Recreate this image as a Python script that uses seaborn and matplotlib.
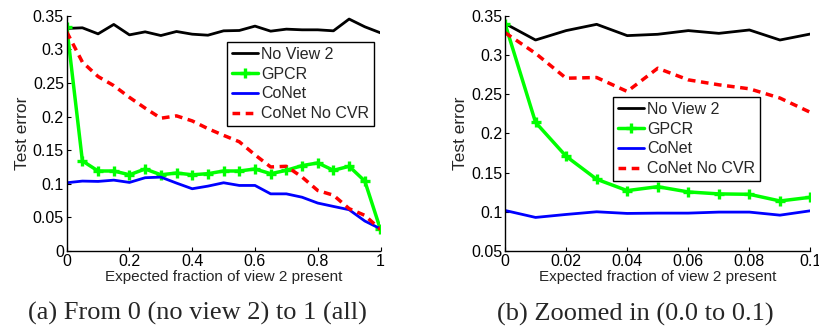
import numpy as np
import pandas as pd
import matplotlib
matplotlib.use("Agg")
import matplotlib.pyplot as plt
import seaborn as sns
from matplotlib.ticker import FuncFormatter, MultipleLocator

# ---------------- data ----------------
x_full = [0.0, 0.05, 0.1, 0.15, 0.2, 0.25, 0.3, 0.35, 0.4, 0.45, 0.5,
          0.55, 0.6, 0.65, 0.7, 0.75, 0.8, 0.85, 0.9, 0.95, 1.0]
noview2_full = [0.331, 0.332, 0.323, 0.337, 0.3215, 0.326, 0.3205, 0.3265, 0.3225, 0.321, 0.3275,
                0.328, 0.3345, 0.327, 0.330, 0.329, 0.329, 0.3275, 0.345, 0.3335, 0.3245]
gpcr_full = [0.3335, 0.134, 0.119, 0.119, 0.1134, 0.122, 0.1134, 0.116, 0.1134, 0.115, 0.119,
             0.119, 0.122, 0.115, 0.120, 0.127, 0.131, 0.120, 0.126, 0.104, 0.032]
conet_full = [0.1015, 0.104, 0.1035, 0.1054, 0.102, 0.109, 0.1099, 0.101, 0.0926, 0.0965, 0.1015,
              0.0975, 0.0975, 0.085, 0.085, 0.080, 0.0713, 0.0663, 0.0614, 0.0446, 0.033]
nocvr_full = [0.326, 0.281, 0.2595, 0.246, 0.2285, 0.2125, 0.1975, 0.201, 0.1935, 0.182, 0.172,
              0.1625, 0.143, 0.125, 0.126, 0.110, 0.090, 0.083, 0.063, 0.053, 0.032]

x_zoom = [0.0, 0.01, 0.02, 0.03, 0.04, 0.05, 0.06, 0.07, 0.08, 0.09, 0.1]
noview2_zoom = [0.340, 0.319, 0.331, 0.339, 0.3246, 0.3263, 0.331, 0.3275, 0.3318, 0.319, 0.3267]
gpcr_zoom = [0.340, 0.214, 0.1708, 0.1415, 0.127, 0.132, 0.1253, 0.1228, 0.1223, 0.1138, 0.1185]
conet_zoom = [0.1017, 0.0928, 0.0966, 0.100, 0.0979, 0.0983, 0.0983, 0.0996, 0.0996, 0.0957, 0.1013]
nocvr_zoom = [0.3284, 0.302, 0.2703, 0.2712, 0.2534, 0.283, 0.2682, 0.2619, 0.2568, 0.245, 0.2267]

series_names = ["No View 2", "GPCR", "CoNet", "CoNet No CVR"]
captions = ["(a) From 0 (no view 2) to 1 (all)", "(b) Zoomed in (0.0 to 0.1)"]
xlabel = "Expected fraction of view 2 present"
ylabel = "Test error"

# ---------------- style ----------------
sns.set_style("ticks")
plt.rcParams["font.family"] = ["Liberation Sans", "DejaVu Sans"]
plt.rcParams["font.size"] = 11.5

fig = plt.figure(figsize=(8.2, 3.29), dpi=100)
W, H = 820.0, 329.0
ax1 = fig.add_axes([66.7 / W, 1 - 251 / H, (380.5 - 66.7) / W, (251 - 15.7) / H])
ax2 = fig.add_axes([505 / W, 1 - 251 / H, (810.5 - 505) / W, (251 - 15.7) / H])

styles = {
    "No View 2": dict(color="black", linewidth=2.0, linestyle="-"),
    "GPCR": dict(color=(0, 1, 0), linewidth=2.5, linestyle="-", marker="+",
                 markersize=7, markeredgewidth=2.4, markeredgecolor=(0, 1, 0)),
    "CoNet": dict(color=(0, 0, 1), linewidth=2.0, linestyle="-"),
    "CoNet No CVR": dict(color=(1, 0, 0), linewidth=2.5, linestyle=(0, (2.2, 1.6))),
}


def draw(ax, x, data, ylim, xmax, xstep, legend_anchor):
    for name, vals in zip(series_names, data):
        df = pd.DataFrame({"x": x, "y": vals})
        sns.lineplot(data=df, x="x", y="y", ax=ax, label=name, **styles[name])
    ax.set_xlim(0, xmax)
    ax.set_ylim(*ylim)
    ax.xaxis.set_major_locator(MultipleLocator(xstep))
    ax.yaxis.set_major_locator(MultipleLocator(0.05))
    fmt = FuncFormatter(lambda v, p: ("%g" % round(v, 4)))
    ax.xaxis.set_major_formatter(fmt)
    ax.yaxis.set_major_formatter(fmt)
    for s in ["top", "right"]:
        ax.spines[s].set_visible(False)
    for s in ["left", "bottom"]:
        ax.spines[s].set_linewidth(1.0)
        ax.spines[s].set_color("black")
    ax.tick_params(direction="in", length=3, width=0.8, labelsize=11.5,
                   colors="black", pad=2)
    ax.set_xlabel(xlabel, fontsize=11, labelpad=1)
    ax.set_ylabel(ylabel, fontsize=12.5, labelpad=2)
    leg = ax.legend(loc="upper left", bbox_to_anchor=legend_anchor,
                    bbox_transform=fig.transFigure, borderaxespad=0,
                    fontsize=11.5, frameon=True, fancybox=False, shadow=False,
                    framealpha=1, edgecolor="black", handlelength=1.65,
                    handletextpad=0.2, labelspacing=0.3, borderpad=0.3)
    leg.get_frame().set_linewidth(1.0)


draw(ax1, x_full, [noview2_full, gpcr_full, conet_full, nocvr_full],
     (0, 0.35), 1.0, 0.2, (227 / W, 1 - 42 / H))
draw(ax2, x_zoom, [noview2_zoom, gpcr_zoom, conet_zoom, nocvr_zoom],
     (0.05, 0.35), 0.1, 0.02, (613 / W, 1 - 97 / H))

fig.text(197 / W, 1 - 313 / H, captions[0], ha="center", va="center",
         fontsize=19, family=["Liberation Serif", "DejaVu Serif"])
fig.text(635 / W, 1 - 314 / H, captions[1], ha="center", va="center",
         fontsize=19, family=["Liberation Serif", "DejaVu Serif"])

fig.savefig("out.png", dpi=100)
